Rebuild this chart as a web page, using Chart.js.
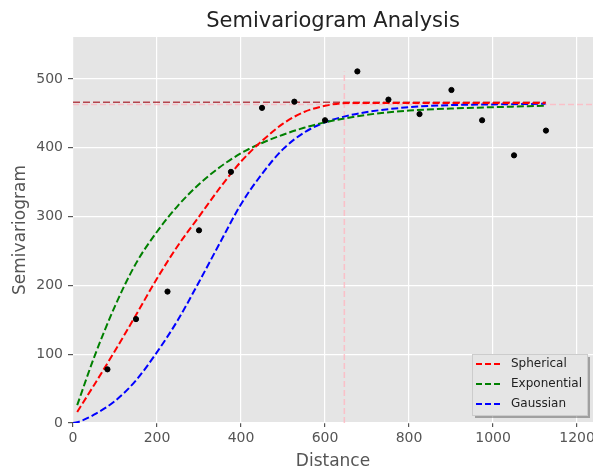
<!DOCTYPE html>
<html>
<head>
<meta charset="utf-8">
<script src="https://cdn.jsdelivr.net/npm/chart.js@4.4.1/dist/chart.umd.min.js"></script>
<style>
  html, body { margin: 0; padding: 0; background: #fff; overflow: hidden; }
  #wrap { position: absolute; left: 0; top: 0; width: 610px; height: 480px; }
</style>
</head>
<body>
<div id="wrap"><canvas id="main-chart"></canvas></div>
<script>
// observed semivariance per lag bin
const lagDistances = [82, 150, 225, 300, 376, 450, 527, 600, 677, 751, 825, 901, 974, 1050, 1126];
const semivariance = [78, 151, 191, 280, 365, 458, 467, 440, 511, 470, 449, 484, 440, 389, 425];

// fitted model curves
const modelDistances    = [0,  10, 50, 100, 150, 200, 250, 300, 350, 400, 450, 500, 550, 600, 650, 700, 800, 900, 1000, 1125];
const sphericalValues   = [null, 16, 55, 105, 157, 210, 258, 300, 342, 380, 410, 435, 452, 461, 465, 465, 465, 465, 465, 465];
const exponentialValues = [null, 26, 95, 170, 232, 278, 316, 347, 372, 392, 407, 419, 429, 437, 443, 448, 454, 457, 459, 461];
const gaussianValues    = [0,   1, 12, 32, 62, 103, 150, 205, 262, 318, 362, 398, 422, 437, 446, 452, 459, 462, 463, 464];

// sill / range guides
const sillValue = 465;
const rangeValue = 646;
const maxSemivariance = 511;
const xLimits = [0, 1238];
const yLimits = [0, 561];

const xTickValues = [0, 200, 400, 600, 800, 1000, 1200];
const yTickValues = [0, 100, 200, 300, 400, 500];

const modelLabels = ["Spherical", "Exponential", "Gaussian"];
const modelColors = ["#ff0000", "#008000", "#0000ff"];

function toXY(xs, ys) {
  var pts = [];
  for (var i = 0; i < xs.length; i++) {
    if (ys[i] !== null) pts.push({ x: xs[i], y: ys[i] });
  }
  return pts;
}

function curve(label, values, color) {
  return {
    label: label,
    data: toXY(modelDistances, values),
    showLine: true,
    borderColor: color,
    borderWidth: 2,
    borderDash: [7, 3],
    pointRadius: 0,
    cubicInterpolationMode: "monotone",
    fill: false,
    order: 1,
    inLegend: true,
  };
}

var datasets = [
  // pink guide lines
  {
    label: "sill",
    data: [{ x: xLimits[0], y: sillValue - 2 }, { x: xLimits[1], y: sillValue - 2 }],
    showLine: true, borderColor: "rgba(255,182,193,0.8)", borderWidth: 1.5,
    borderDash: [6, 3], pointRadius: 0, order: 5,
  },
  {
    label: "range",
    data: [{ x: rangeValue, y: 0 }, { x: rangeValue, y: maxSemivariance }],
    showLine: true, borderColor: "rgba(255,182,193,0.8)", borderWidth: 1.5,
    borderDash: [6, 3], pointRadius: 0, order: 5,
  },
  {
    label: "sill level",
    data: [{ x: 0, y: sillValue + 1 }, { x: lagDistances[lagDistances.length - 1], y: sillValue + 1 }],
    showLine: true, borderColor: "rgba(170,40,50,0.85)", borderWidth: 1.5,
    borderDash: [7, 3], pointRadius: 0, order: 4,
  },
  curve(modelLabels[0], sphericalValues, modelColors[0]),
  curve(modelLabels[1], exponentialValues, modelColors[1]),
  curve(modelLabels[2], gaussianValues, modelColors[2]),
  {
    label: "data",
    data: toXY(lagDistances, semivariance),
    backgroundColor: "#000",
    borderColor: "#000",
    pointRadius: 2.6,
    pointHoverRadius: 2.6,
    showLine: false,
    order: 0,
  },
];

// grey panel like ggplot
const panelBg = {
  id: "panelBg",
  beforeDraw(chart) {
    const a = chart.chartArea;
    const c = chart.ctx;
    c.save();
    c.fillStyle = "#e5e5e5";
    c.fillRect(a.left, a.top, a.right - a.left, a.bottom - a.top);
    c.restore();
  },
};

// title + legend box inside the plot
const extras = {
  id: "extras",
  afterDraw(chart) {
    const a = chart.chartArea;
    const c = chart.ctx;
    c.save();
    c.fillStyle = "#222";
    c.font = "21px 'DejaVu Sans'";
    c.textAlign = "center";
    c.textBaseline = "alphabetic";
    c.fillText("Semivariogram Analysis", (a.left + a.right) / 2, 27);

    var bx = 472, by = 354, bw = 115, bh = 61;
    c.fillStyle = "rgba(0,0,0,0.3)";
    c.fillRect(bx + 3, by + 3, bw, bh);
    c.fillStyle = "#e5e5e5";
    c.fillRect(bx, by, bw, bh);
    c.strokeStyle = "#cccccc";
    c.lineWidth = 1;
    c.strokeRect(bx + 0.5, by + 0.5, bw, bh);

    var items = chart.data.datasets.filter(function (d) { return d.inLegend; });
    c.font = "12px 'DejaVu Sans'";
    c.textAlign = "left";
    c.textBaseline = "middle";
    items.forEach(function (d, i) {
      var y = by + 10 + i * 20;
      c.strokeStyle = d.borderColor;
      c.lineWidth = 2;
      c.setLineDash([6, 3]);
      c.beginPath();
      c.moveTo(bx + 4, y);
      c.lineTo(bx + 28, y);
      c.stroke();
      c.setLineDash([]);
      c.fillStyle = "#222";
      c.fillText(d.label, bx + 39, y);
    });
    c.restore();
  },
};

var mainChart = new Chart(document.getElementById("main-chart"), {
  type: "scatter",
  data: { datasets: datasets },
  options: {
    responsive: true,
    maintainAspectRatio: false,
    animation: false,
    layout: { padding: { left: 0, right: 17, top: 37, bottom: 0 } },
    plugins: {
      legend: { display: false },
      tooltip: { enabled: false },
    },
    scales: {
      x: {
        type: "linear",
        min: xLimits[0],
        max: xLimits[1],
        afterBuildTicks: function (s) { s.ticks = xTickValues.map(function (v) { return { value: v }; }); },
        afterFit: function (s) { s.height = 57; },
        ticks: {
          color: "#555", font: { family: "DejaVu Sans", size: 14 }, padding: 3, maxRotation: 0, autoSkip: false,
          callback: function (v) { return String(v); },
        },
        grid: { color: "#ffffff", lineWidth: 1.2, tickColor: "#555", tickLength: 4 },
        border: { display: false },
        title: { display: true, text: "Distance", color: "#555", font: { family: "DejaVu Sans", size: 17 }, padding: { top: 0, bottom: 8 } },
      },
      y: {
        type: "linear",
        min: yLimits[0],
        max: yLimits[1],
        afterBuildTicks: function (s) { s.ticks = yTickValues.map(function (v) { return { value: v }; }); },
        afterFit: function (s) { s.width = 73; },
        ticks: {
          color: "#555", font: { family: "DejaVu Sans", size: 14 }, padding: 5,
          callback: function (v) { return String(v); },
        },
        grid: { color: "#ffffff", lineWidth: 1.2, tickColor: "#555", tickLength: 5 },
        border: { display: false },
        title: { display: true, text: "Semivariogram", color: "#555", font: { family: "DejaVu Sans", size: 17 }, padding: { top: 10, bottom: 0 } },
      },
    },
  },
  plugins: [panelBg, extras],
});
</script>
</body>
</html>
